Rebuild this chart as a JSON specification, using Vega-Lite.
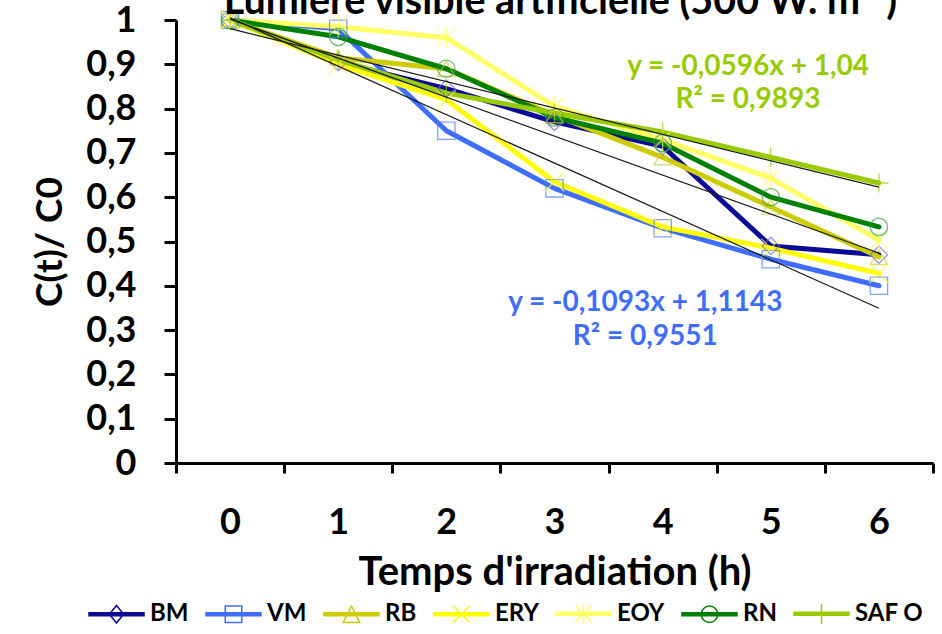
{
  "$schema": "https://vega.github.io/schema/vega-lite/v6.json",
  "width": 757,
  "height": 443,
  "autosize": {"type": "none"},
  "padding": {"left": 176, "top": 20, "right": 9, "bottom": 171},
  "background": "white",
  "title": {"text": "Lumière visible artificielle (500 W. m⁻²)", "font": "Lato", "fontSize": 39.5, "fontWeight": "bold", "color": "black", "anchor": "middle", "baseline": "bottom", "offset": 0, "dy": 59, "dx": 6},
  "config": {"view": {"stroke": null}, "font": "Lato"},
  "datasets": {
    "series": [
      {"serie": "BM", "t": 0, "c": 1}, {"serie": "BM", "t": 1, "c": 0.905}, {"serie": "BM", "t": 2, "c": 0.845}, {"serie": "BM", "t": 3, "c": 0.77}, {"serie": "BM", "t": 4, "c": 0.715}, {"serie": "BM", "t": 5, "c": 0.49}, {"serie": "BM", "t": 6, "c": 0.47},
      {"serie": "VM", "t": 0, "c": 1}, {"serie": "VM", "t": 1, "c": 0.98}, {"serie": "VM", "t": 2, "c": 0.75}, {"serie": "VM", "t": 3, "c": 0.62}, {"serie": "VM", "t": 4, "c": 0.53}, {"serie": "VM", "t": 5, "c": 0.46}, {"serie": "VM", "t": 6, "c": 0.40},
      {"serie": "RB", "t": 0, "c": 1}, {"serie": "RB", "t": 1, "c": 0.915}, {"serie": "RB", "t": 2, "c": 0.89}, {"serie": "RB", "t": 3, "c": 0.785}, {"serie": "RB", "t": 4, "c": 0.69}, {"serie": "RB", "t": 5, "c": 0.578}, {"serie": "RB", "t": 6, "c": 0.465},
      {"serie": "ERY", "t": 0, "c": 1}, {"serie": "ERY", "t": 1, "c": 0.90}, {"serie": "ERY", "t": 2, "c": 0.82}, {"serie": "ERY", "t": 3, "c": 0.635}, {"serie": "ERY", "t": 4, "c": 0.533}, {"serie": "ERY", "t": 5, "c": 0.485}, {"serie": "ERY", "t": 6, "c": 0.428},
      {"serie": "EOY", "t": 0, "c": 1}, {"serie": "EOY", "t": 1, "c": 0.985}, {"serie": "EOY", "t": 2, "c": 0.96}, {"serie": "EOY", "t": 3, "c": 0.805}, {"serie": "EOY", "t": 4, "c": 0.73}, {"serie": "EOY", "t": 5, "c": 0.643}, {"serie": "EOY", "t": 6, "c": 0.503},
      {"serie": "RN", "t": 0, "c": 1}, {"serie": "RN", "t": 1, "c": 0.962}, {"serie": "RN", "t": 2, "c": 0.89}, {"serie": "RN", "t": 3, "c": 0.78}, {"serie": "RN", "t": 4, "c": 0.722}, {"serie": "RN", "t": 5, "c": 0.60}, {"serie": "RN", "t": 6, "c": 0.533},
      {"serie": "SAF O", "t": 0, "c": 1}, {"serie": "SAF O", "t": 1, "c": 0.91}, {"serie": "SAF O", "t": 2, "c": 0.835}, {"serie": "SAF O", "t": 3, "c": 0.79}, {"serie": "SAF O", "t": 4, "c": 0.747}, {"serie": "SAF O", "t": 5, "c": 0.69}, {"serie": "SAF O", "t": 6, "c": 0.632}
    ],
    "trends": [
      {"trend": "BM", "t": 0, "c": 1.002}, {"trend": "BM", "t": 6, "c": 0.474},
      {"trend": "VM", "t": 0, "c": 1.005}, {"trend": "VM", "t": 6, "c": 0.3492},
      {"trend": "SAF O", "t": 0, "c": 0.9804}, {"trend": "SAF O", "t": 6, "c": 0.6228}
    ],
    "eqGreen": [
      {"t": 4.79, "c": 0.894, "label": "y = -0,0596x + 1,04"},
      {"t": 4.79, "c": 0.819, "label": "R² = 0,9893"}
    ],
    "eqBlue": [
      {"t": 3.84, "c": 0.361, "label": "y = -0,1093x + 1,1143"},
      {"t": 3.84, "c": 0.284, "label": "R² = 0,9551"}
    ]
  },
  "layer": [
    {
      "data": {"name": "series"},
      "mark": {"type": "line", "strokeWidth": 5, "strokeCap": "round", "strokeJoin": "round"},
      "encoding": {
        "x": {
          "field": "t", "type": "quantitative",
          "scale": {"domain": [-0.5, 6.5], "nice": false, "zero": false},
          "axis": {
            "title": "Temps d'irradiation (h)",
            "values": [-0.5, 0.5, 1.5, 2.5, 3.5, 4.5, 5.5, 6.5],
            "labelExpr": "datum.value < 6 ? format(datum.value + 0.5, 'd') : ''",
            "labelOffset": 54, "grid": false,
            "tickSize": 10, "tickWidth": 3, "tickColor": "black",
            "domainColor": "black", "domainWidth": 3,
            "labelFont": "Lato", "labelFontSize": 36, "labelFontWeight": "bold", "labelColor": "black",
            "labelPadding": 32, "labelOverlap": false, "labelFlush": false,
            "titleFont": "Lato", "titleFontSize": 40, "titleFontWeight": "bold", "titleColor": "black", "titlePadding": 12
          }
        },
        "y": {
          "field": "c", "type": "quantitative",
          "scale": {"domain": [0, 1], "nice": false},
          "axis": {
            "title": "C(t)/ C0",
            "values": [0, 0.1, 0.2, 0.3, 0.4, 0.5, 0.6, 0.7, 0.8, 0.9, 1],
            "labelExpr": "replace(format(datum.value, '.1~f'), '.', ',')",
            "grid": false,
            "tickSize": 12, "tickWidth": 3, "tickColor": "black",
            "domainColor": "black", "domainWidth": 3,
            "labelFont": "Lato", "labelFontSize": 36, "labelFontWeight": "bold", "labelColor": "black",
            "labelPadding": 28, "labelOverlap": false, "labelFlush": false,
            "titleFont": "Lato", "titleFontSize": 37, "titleFontWeight": "bold", "titleColor": "black", "titlePadding": 16
          }
        },
        "color": {
          "field": "serie", "type": "nominal",
          "scale": {
            "domain": ["BM", "VM", "RB", "ERY", "EOY", "RN", "SAF O"],
            "range": ["#0a0a96", "#3f6eff", "#cccc00", "#ffff00", "#ffff66", "#008000", "#99cc00"]
          },
          "legend": {
            "orient": "none", "legendX": -88, "legendY": 565, "direction": "horizontal",
            "title": null, "padding": 0,
            "labelFont": "Lato", "labelFontSize": 24, "labelFontWeight": "bold", "labelColor": "black",
            "labelOffset": 5, "columnPadding": 14,
            "symbolSize": 3025, "symbolStrokeWidth": 1.5,
            "encode": {
              "symbols": {
                "update": {
                  "fill": {"value": "transparent"},
                  "strokeWidth": {"value": 1.5},
                  "shape": {"signal": "datum.value === 'BM' ? 'M-1,-0.0545L1,-0.0545L1,0L-1,0ZM-1,0L1,0L1,0.0545L-1,0.0545ZM0,-0.32L0.26,0L0,0.32L-0.26,0Z' : datum.value === 'VM' ? 'M-1,-0.0545L1,-0.0545L1,0L-1,0ZM-1,0L1,0L1,0.0545L-1,0.0545ZM-0.3,-0.3L0.3,-0.3L0.3,0.3L-0.3,0.3Z' : datum.value === 'RB' ? 'M-1,-0.0545L1,-0.0545L1,0L-1,0ZM-1,0L1,0L1,0.0545L-1,0.0545ZM0,-0.3L0.3,0.3L-0.3,0.3Z' : datum.value === 'ERY' ? 'M-1,-0.0545L1,-0.0545L1,0L-1,0ZM-1,0L1,0L1,0.0545L-1,0.0545ZM-0.3,-0.3L0.3,0.3M-0.3,0.3L0.3,-0.3' : datum.value === 'EOY' ? 'M-1,-0.0545L1,-0.0545L1,0L-1,0ZM-1,0L1,0L1,0.0545L-1,0.0545ZM-0.3,-0.3L0.3,0.3M-0.3,0.3L0.3,-0.3M0,-0.36L0,0.36' : datum.value === 'RN' ? 'M-1,-0.0545L1,-0.0545L1,0L-1,0ZM-1,0L1,0L1,0.0545L-1,0.0545ZM0.3,0A0.3,0.3,0,1,1,-0.3,0A0.3,0.3,0,1,1,0.3,0' : 'M-1,-0.0545L1,-0.0545L1,0L-1,0ZM-1,0L1,0L1,0.0545L-1,0.0545ZM0,-0.36L0,0.36'"}
                }
              }
            }
          }
        }
      }
    },
    {
      "data": {"name": "series"},
      "transform": [{"filter": "datum.serie === 'BM'"}],
      "mark": {"type": "point", "shape": "diamond", "filled": false, "size": 300, "strokeWidth": 1.3, "color": "#6a6ad0"},
      "encoding": {"x": {"field": "t", "type": "quantitative"}, "y": {"field": "c", "type": "quantitative"}}
    },
    {
      "data": {"name": "series"},
      "transform": [{"filter": "datum.serie === 'VM'"}],
      "mark": {"type": "point", "shape": "square", "filled": false, "size": 300, "strokeWidth": 1.3, "color": "#4d7cff"},
      "encoding": {"x": {"field": "t", "type": "quantitative"}, "y": {"field": "c", "type": "quantitative"}}
    },
    {
      "data": {"name": "series"},
      "transform": [{"filter": "datum.serie === 'RB'"}],
      "mark": {"type": "point", "shape": "triangle-up", "filled": false, "size": 300, "strokeWidth": 1.3, "color": "#cccc33"},
      "encoding": {"x": {"field": "t", "type": "quantitative"}, "y": {"field": "c", "type": "quantitative"}}
    },
    {
      "data": {"name": "series"},
      "transform": [{"filter": "datum.serie === 'ERY'"}],
      "mark": {"type": "point", "shape": "M-1.1,-1.1L1.1,1.1M-1.1,1.1L1.1,-1.1", "filled": false, "size": 300, "strokeWidth": 1.3, "color": "#ffff33"},
      "encoding": {"x": {"field": "t", "type": "quantitative"}, "y": {"field": "c", "type": "quantitative"}}
    },
    {
      "data": {"name": "series"},
      "transform": [{"filter": "datum.serie === 'EOY'"}],
      "mark": {"type": "point", "shape": "M-1,-1L1,1M-1,1L1,-1M0,-1.2L0,1.2", "filled": false, "size": 300, "strokeWidth": 1.3, "color": "#ffff66"},
      "encoding": {"x": {"field": "t", "type": "quantitative"}, "y": {"field": "c", "type": "quantitative"}}
    },
    {
      "data": {"name": "series"},
      "transform": [{"filter": "datum.serie === 'RN'"}],
      "mark": {"type": "point", "shape": "circle", "filled": false, "size": 300, "strokeWidth": 1.3, "color": "#33a033"},
      "encoding": {"x": {"field": "t", "type": "quantitative"}, "y": {"field": "c", "type": "quantitative"}}
    },
    {
      "data": {"name": "series"},
      "transform": [{"filter": "datum.serie === 'SAF O'"}],
      "mark": {"type": "point", "shape": "M-1.1,0L1.1,0M0,-1.1L0,1.1", "filled": false, "size": 300, "strokeWidth": 1.3, "color": "#99cc00"},
      "encoding": {"x": {"field": "t", "type": "quantitative"}, "y": {"field": "c", "type": "quantitative"}}
    },
    {
      "data": {"name": "trends"},
      "mark": {"type": "line", "color": "#1a1a1a", "strokeWidth": 1.2},
      "encoding": {
        "x": {"field": "t", "type": "quantitative"},
        "y": {"field": "c", "type": "quantitative"},
        "detail": {"field": "trend", "type": "nominal"}
      }
    },
    {
      "data": {"name": "eqGreen"},
      "mark": {"type": "text", "font": "Lato", "fontSize": 28, "fontWeight": "bold", "color": "#99cc00", "align": "center", "baseline": "middle"},
      "encoding": {
        "x": {"field": "t", "type": "quantitative"},
        "y": {"field": "c", "type": "quantitative"},
        "text": {"field": "label", "type": "nominal"}
      }
    },
    {
      "data": {"name": "eqBlue"},
      "mark": {"type": "text", "font": "Lato", "fontSize": 28, "fontWeight": "bold", "color": "#3f6eff", "align": "center", "baseline": "middle"},
      "encoding": {
        "x": {"field": "t", "type": "quantitative"},
        "y": {"field": "c", "type": "quantitative"},
        "text": {"field": "label", "type": "nominal"}
      }
    }
  ]
}
